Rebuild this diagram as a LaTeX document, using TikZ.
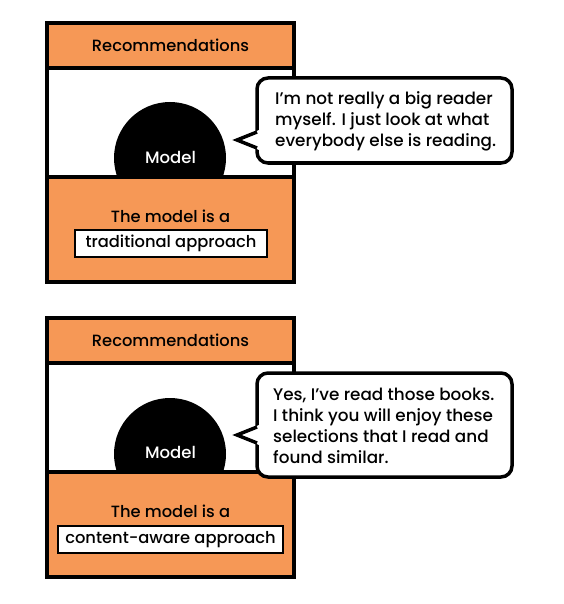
\documentclass[tikz,border=0pt]{standalone}
\usepackage{fontspec}
\setmainfont{Poppins}[UprightFont={* Medium},BoldFont={* SemiBold}]
\definecolor{panelorange}{HTML}{F69856}
\begin{document}
\begin{tikzpicture}[x=1pt,y=-1pt,
  frame/.style={draw=black,line width=4pt},
  orangefill/.style={fill=panelorange},
  modelball/.style={circle,fill=black,minimum size=112pt,inner sep=0pt},
  modeltext/.style={text=white,font=\fontsize{16.5}{18}\selectfont},
  headtext/.style={font=\fontsize{16.3}{18}\selectfont},
  bodytext/.style={font=\fontsize{16.3}{18}\selectfont},
  tagbox/.style={draw=black,line width=1.6pt,fill=white,inner sep=0pt,font=\fontsize{16.3}{18}\selectfont},
  bubblebox/.style={draw=black,line width=3.5pt,fill=white,rounded corners=11pt,inner sep=0pt},
  pointer/.style={draw=black,line width=3.5pt,line join=miter},
  saytext/.style={align=left,anchor=west,inner sep=0pt,font=\fontsize{16.8}{21}\selectfont}
]
\useasboundingbox (0,0) rectangle (563,604);

% ---------- panel 1 ----------
\fill[white] (47,23) rectangle (294,282);
\node[modelball] (ball1) at (170,158) {};
\fill[orangefill] (47,177) rectangle (294,282);
\fill[orangefill] (47,23) rectangle (294,68);
\draw[frame] (47,68) -- (294,68);
\draw[frame] (47,177) -- (294,177);
\draw[frame] (47,23) rectangle (294,282);
\node[headtext] (head1) at (170.5,45) {Recommendations};
\node[modeltext] (model1) at (170.5,157) {Model};
\node[bodytext] (is1) at (170.5,216) {The model is a};
\node[tagbox,minimum width=192pt,minimum height=27pt] (tag1) at (171,243.5) {traditional approach};

\node[bubblebox,minimum width=255pt,minimum height=85pt] (bub1) at (384.5,120.5) {};
\fill[white] (259,130) -- (237,140) -- (259,150) -- cycle;
\draw[pointer] (257,132) -- (237,140) -- (257,148);
\node[saytext] (say1) at (275,121) {I’m not really a big reader\\myself. I just look at what\\everybody else is reading.};

% ---------- panel 2 ----------
\fill[white] (47,318) rectangle (294,577);
\node[modelball] (ball2) at (170,454) {};
\fill[orangefill] (47,472) rectangle (294,577);
\fill[orangefill] (47,318) rectangle (294,363);
\draw[frame] (47,363) -- (294,363);
\draw[frame] (47,472) -- (294,472);
\draw[frame] (47,318) rectangle (294,577);
\node[headtext] (head2) at (170.5,340) {Recommendations};
\node[modeltext] (model2) at (170.5,452) {Model};
\node[bodytext] (is2) at (170.5,511) {The model is a};
\node[tagbox,minimum width=225pt,minimum height=27pt] (tag2) at (170.5,539.5) {content-aware approach};

\node[bubblebox,minimum width=255pt,minimum height=104pt] (bub2) at (384.5,425) {};
\fill[white] (259,425) -- (237,435) -- (259,445) -- cycle;
\draw[pointer] (257,427) -- (237,435) -- (257,443);
\node[saytext] (say2) at (273,425.5) {Yes, I’ve read those books.\\I think you will enjoy these\\selections that I read and\\found similar.};
\end{tikzpicture}
\end{document}
